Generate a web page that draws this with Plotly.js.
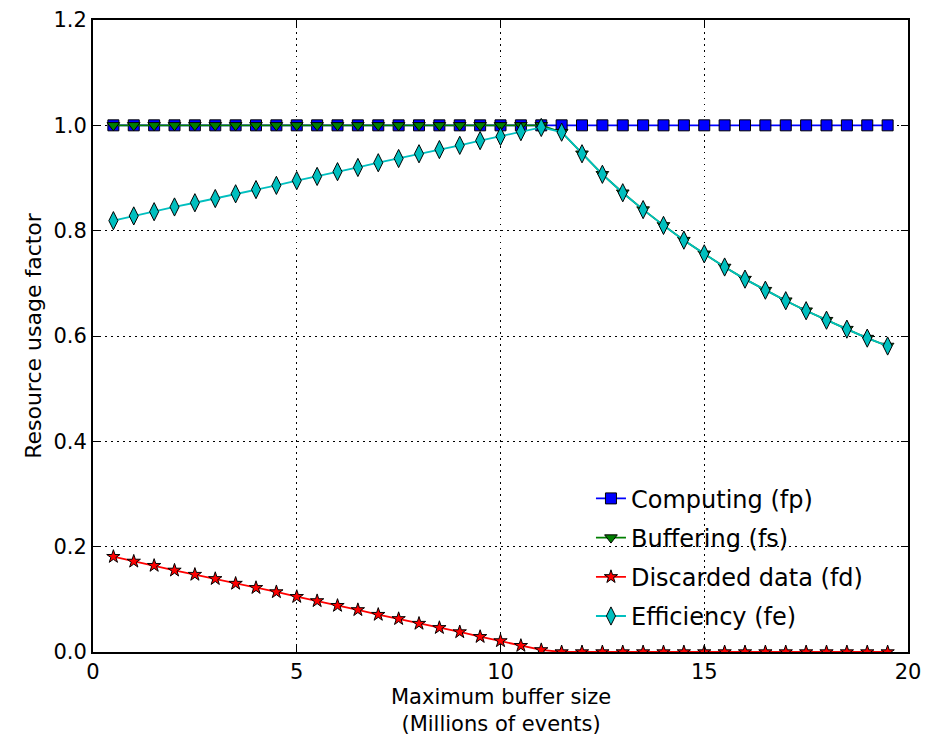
<!DOCTYPE html>
<html>
<head>
<meta charset="utf-8">
<script src="https://cdn.plot.ly/plotly-3.0.1.min.js"></script>
<style>html,body{margin:0;padding:0;background:#fff;}#chart{width:941px;height:735px;}</style>
</head>
<body>
<div id="chart"></div>
<script>
const bufferSize = [0.5,1,1.5,2,2.5,3,3.5,4,4.5,5,5.5,6,6.5,7,7.5,8,8.5,9,9.5,10,10.5,11,11.5,12,12.5,13,13.5,14,14.5,15,15.5,16,16.5,17,17.5,18,18.5,19,19.5];
const computing = [1,1,1,1,1,1,1,1,1,1,1,1,1,1,1,1,1,1,1,1,1,1,1,1,1,1,1,1,1,1,1,1,1,1,1,1,1,1,1];
const buffering = [1,1,1,1,1,1,1,1,1,1,1,1,1,1,1,1,1,1,1,1,1,1,0.987,0.946,0.907,0.872,0.840,0.810,0.782,0.756,0.731,0.708,0.687,0.667,0.648,0.630,0.613,0.596,0.581];
const discarded = [0.181,0.172,0.164,0.155,0.147,0.139,0.130,0.122,0.114,0.105,0.097,0.088,0.080,0.071,0.063,0.054,0.046,0.038,0.029,0.021,0.012,0.004,0,0,0,0,0,0,0,0,0,0,0,0,0,0,0,0,0];
const efficiency = [0.819,0.828,0.836,0.845,0.853,0.861,0.870,0.878,0.886,0.895,0.903,0.912,0.920,0.929,0.937,0.946,0.954,0.962,0.971,0.979,0.988,0.996,0.987,0.946,0.907,0.872,0.840,0.810,0.782,0.756,0.731,0.708,0.687,0.667,0.648,0.630,0.613,0.596,0.581];
const seriesNames = ["Computing (fp)","Buffering (fs)","Discarded data (fd)","Efficiency (fe)"];
const xTicks = [0,5,10,15,20];
const yTicks = [0,0.2,0.4,0.6,0.8,1.0,1.2];
const xTitle = "Maximum buffer size<br>(Millions of events)";
const yTitle = "Resource usage factor";

const font = "DejaVu Sans, sans-serif";
function tr(y, name, color, symbol, size, group) {
  return {
    x: bufferSize, y: y, name: name, type: "scatter", mode: "lines+markers",
    legendgroup: group,
    line: {color: color, width: 1.8},
    marker: {color: color, symbol: symbol, size: size, line: {color: "#000", width: 1}}
  };
}
const data = [
  tr(computing, seriesNames[0], "#0000ff", "square", 11, "a"),
  tr(buffering, seriesNames[1], "#007f00", "triangle-down", 11, "b"),
  tr(discarded, seriesNames[2], "#ff0000", "star", 10, "c"),
  tr(efficiency, seriesNames[3], "#00bfbf", "diamond-tall", 13, "d")
];
const axisCommon = {
  showline: true, linecolor: "#000", linewidth: 2, mirror: "allticks",
  ticks: "inside", ticklen: 7, tickwidth: 1, tickcolor: "#000",
  showgrid: true, gridcolor: "#000", gridwidth: 1, griddash: "1.5px,4.5px",
  zeroline: false, tickfont: {family: font, size: 21, color: "#000"}
};
const layout = {
  width: 941, height: 735,
  margin: {l: 93, r: 33, t: 20, b: 83},
  paper_bgcolor: "#fff", plot_bgcolor: "#fff",
  font: {family: font, color: "#000"},
  xaxis: Object.assign({}, axisCommon, {
    range: [0, 20], tickvals: xTicks, ticktext: xTicks.map(String)
  }),
  yaxis: Object.assign({}, axisCommon, {
    range: [0, 1.2], tickvals: yTicks, ticktext: yTicks.map(v => v.toFixed(1)),
    title: {text: yTitle, font: {family: font, size: 22}, standoff: 6}
  }),
  annotations: [{
    text: xTitle, xref: "paper", yref: "paper", x: 0.5, y: 0,
    xanchor: "center", yanchor: "top", yshift: -31, showarrow: false,
    font: {family: font, size: 21, color: "#000"}
  }],
  showlegend: true,
  legend: {
    x: 0.611, y: 0.278, xanchor: "left", yanchor: "top",
    bgcolor: "rgba(255,255,255,0)", borderwidth: 0,
    font: {family: font, size: 24, color: "#000"},
    traceorder: "grouped", tracegroupgap: 5
  }
};
Plotly.newPlot("chart", data, layout, {displayModeBar: false, staticPlot: true});
</script>
</body>
</html>
